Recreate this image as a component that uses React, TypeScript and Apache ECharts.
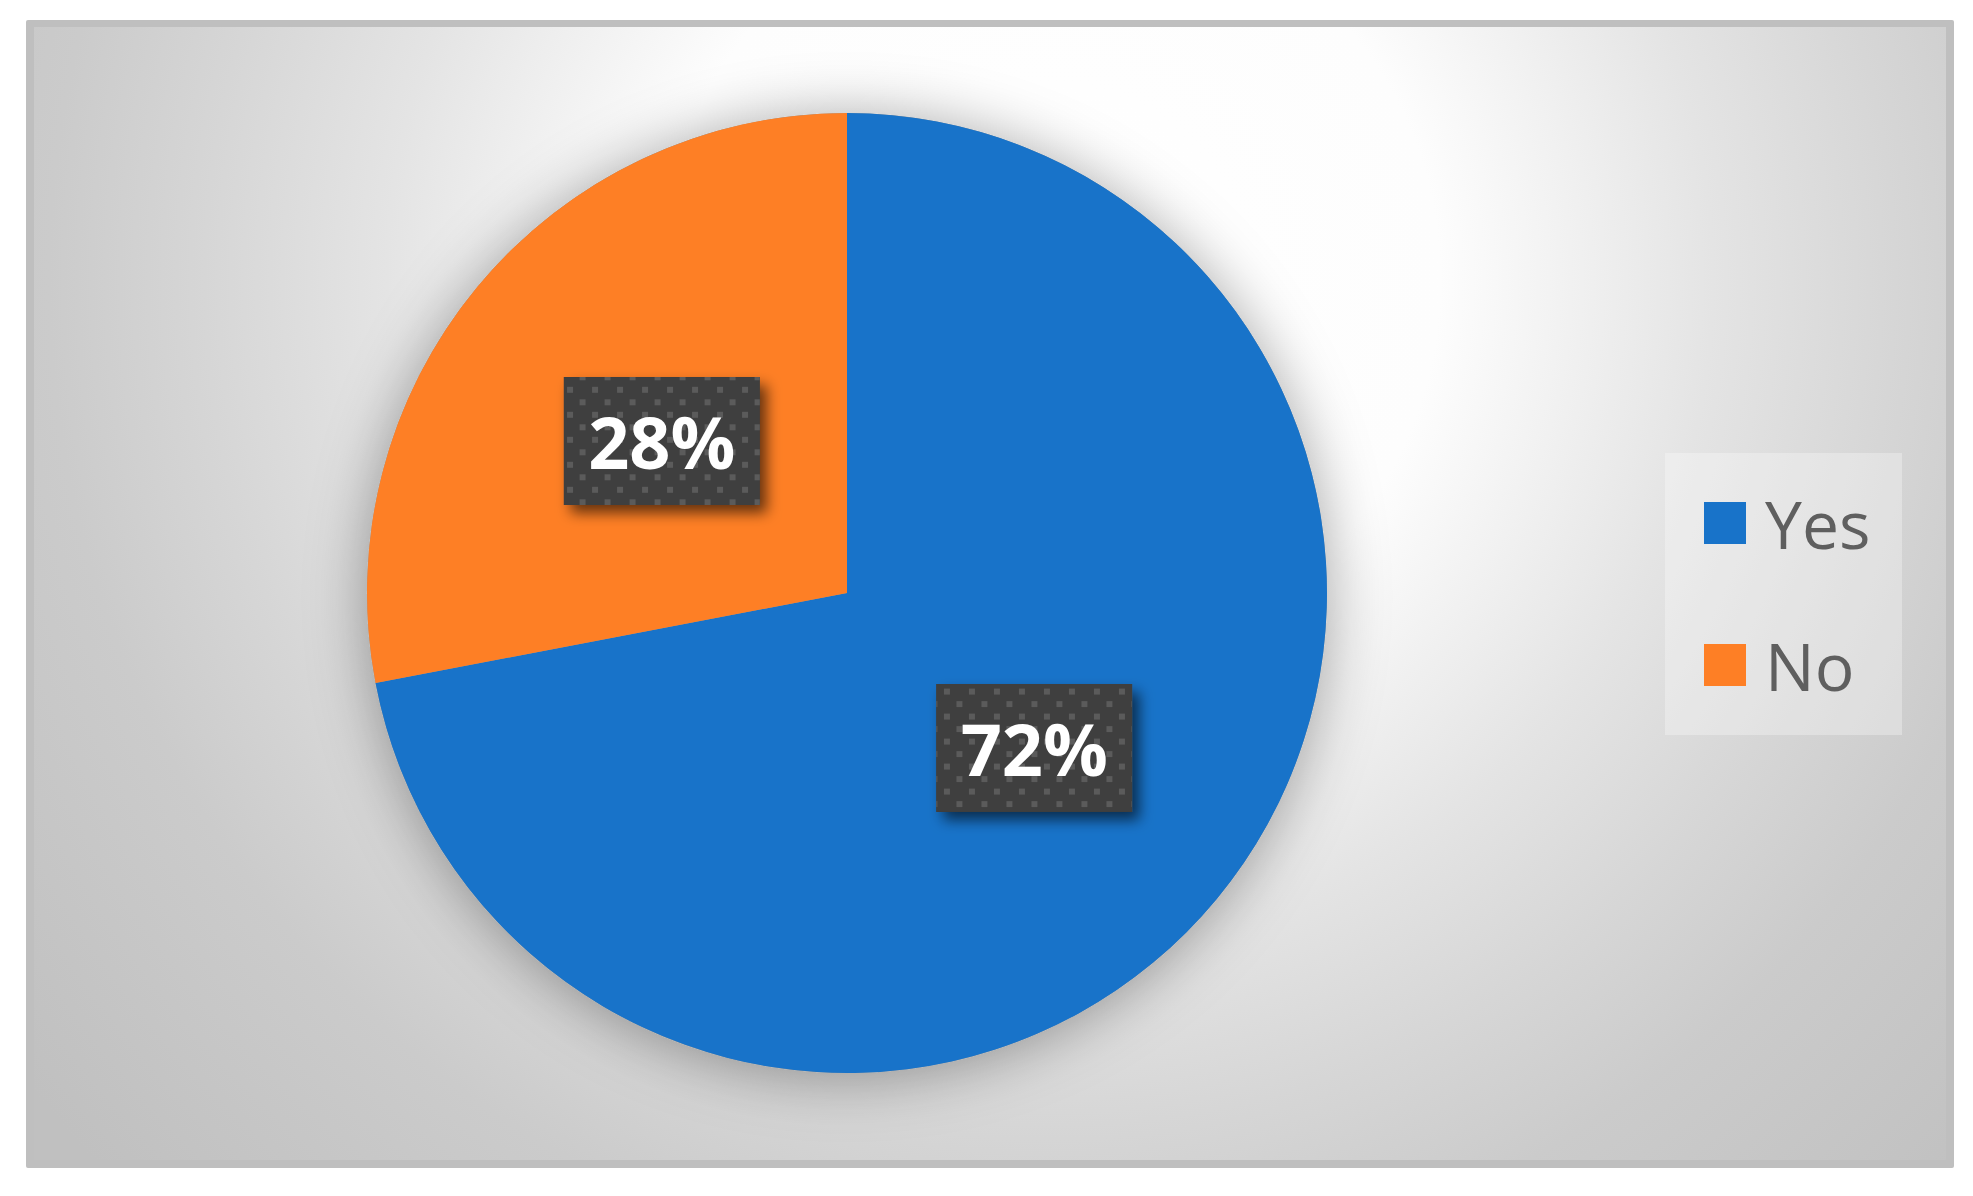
import React, { useEffect, useRef } from "react";
import * as echarts from "echarts";

// ---- data ----
const categories = ["Yes", "No"];
const values = [72, 28];

// ---- styles ----
const sliceColors = ["#1873c9", "#fe7f25"];
const labelBox = { w: 196, h: 128 };
// phase of the dotted label pattern per slice (decoration only)
const patternPhase = [
  [10.7, 7.7],
  [6.3, 12.7],
];
const labelNudge = [
  [0, 0],
  [2, 3],
];

function patternURL(w: number, h: number, x0: number, y0: number) {
  let s = `<svg xmlns='http://www.w3.org/2000/svg' width='${w}' height='${h}'><rect width='${w}' height='${h}' fill='#3f3f3f'/>`;
  for (let j = -2; y0 + j * 12.5 < h + 6; j++) {
    const y = y0 + j * 12.5;
    const par = ((j % 2) + 2) % 2;
    const xo = x0 + par * 12.5;
    for (let k = -2; xo + k * 25 < w + 6; k++) {
      const x = xo + k * 25;
      s += `<rect x='${(x - 3).toFixed(1)}' y='${(y - 3).toFixed(1)}' width='6' height='6' fill='#5b5b5b'/>`;
    }
  }
  s += `</svg>`;
  return "data:image/svg+xml;charset=utf-8," + encodeURIComponent(s);
}

export default function App() {
  const ref = useRef<HTMLDivElement>(null);
  useEffect(() => {
    if (!ref.current) return;
    const chart = echarts.init(ref.current, undefined, { renderer: "svg" });
    const bg = new echarts.graphic.RadialGradient(
      1050,
      280,
      1300,
      [
        { offset: 0, color: "#ffffff" },
        { offset: 0.3, color: "#fdfdfd" },
        { offset: 0.51, color: "#e4e4e4" },
        { offset: 0.65, color: "#d6d6d6" },
        { offset: 0.77, color: "#cbcbcb" },
        { offset: 1, color: "#c0c0c0" },
      ],
      true
    );
    const rich: any = {};
    categories.forEach((_, i) => {
      rich["p" + i] = {
        width: labelBox.w,
        height: labelBox.h,
        lineHeight: labelBox.h,
        align: "center",
        verticalAlign: "middle",
        color: "#ffffff",
        fontFamily: "Open Sans",
        fontWeight: "bold",
        fontSize: 72,
        backgroundColor: {
          image: patternURL(
            labelBox.w,
            labelBox.h,
            patternPhase[i][0],
            patternPhase[i][1]
          ),
        },
      };
    });
    const option: any = {
      animation: false,
      backgroundColor: "#ffffff",
      graphic: {
        elements: [
          {
            type: "rect",
            z: 0,
            silent: true,
            shape: { x: 26, y: 20, width: 1928, height: 1148, r: 2 },
            style: { fill: "#bfbfbf" },
          },
          {
            type: "rect",
            z: 0,
            silent: true,
            shape: { x: 34, y: 27, width: 1912, height: 1133 },
            style: { fill: bg },
          },
          {
            type: "rect",
            z: 1,
            silent: true,
            shape: { x: 1665, y: 453, width: 237, height: 282 },
            style: { fill: "rgba(255,255,255,0.3)" },
          },
        ],
      },
      legend: {
        data: categories,
        orient: "vertical",
        left: 1704,
        top: 490,
        padding: 0,
        itemWidth: 42,
        itemHeight: 42,
        itemGap: 76,
        icon: "rect",
        selectedMode: false,
        textStyle: {
          fontSize: 66,
          color: "#5f5f5f",
          fontFamily: "Open Sans",
          padding: [0, 0, 0, 14],
        },
      },
      series: [
        {
          name: "shadow",
          type: "pie",
          center: [847, 593],
          radius: 480,
          silent: true,
          z: 1,
          label: { show: false },
          labelLine: { show: false },
          emphasis: { disabled: true },
          data: [
            {
              value: 1,
              name: "_shadow",
              itemStyle: {
                color: "#9a9a9a",
                shadowBlur: 60,
                shadowColor: "rgba(0,0,0,0.35)",
                shadowOffsetY: 4,
              },
            },
          ],
        },
        {
          name: "Answer",
          type: "pie",
          center: [847, 593],
          radius: 480,
          startAngle: 90,
          clockwise: true,
          z: 2,
          emphasis: { disabled: true },
          labelLine: { show: false },
          data: categories.map((c, i) => ({
            name: c,
            value: values[i],
            itemStyle: { color: sliceColors[i] },
            label: { offset: labelNudge[i] },
          })),
          label: {
            show: true,
            position: "inside",
            formatter: (p: any) => `{p${p.dataIndex}|${p.value}%}`,
            rich,
            align: "center",
            verticalAlign: "middle",
            padding: 0,
            backgroundColor: "#3f3f3f",
            shadowColor: "rgba(0,0,0,0.6)",
            shadowBlur: 14,
            shadowOffsetX: 7,
            shadowOffsetY: 8,
          },
        },
      ],
    };
    chart.setOption(option);
    return () => chart.dispose();
  }, []);
  return (
    <div
      ref={ref}
      style={{
        position: "absolute",
        left: 0,
        top: 0,
        width: 1973,
        height: 1196,
      }}
    />
  );
}
